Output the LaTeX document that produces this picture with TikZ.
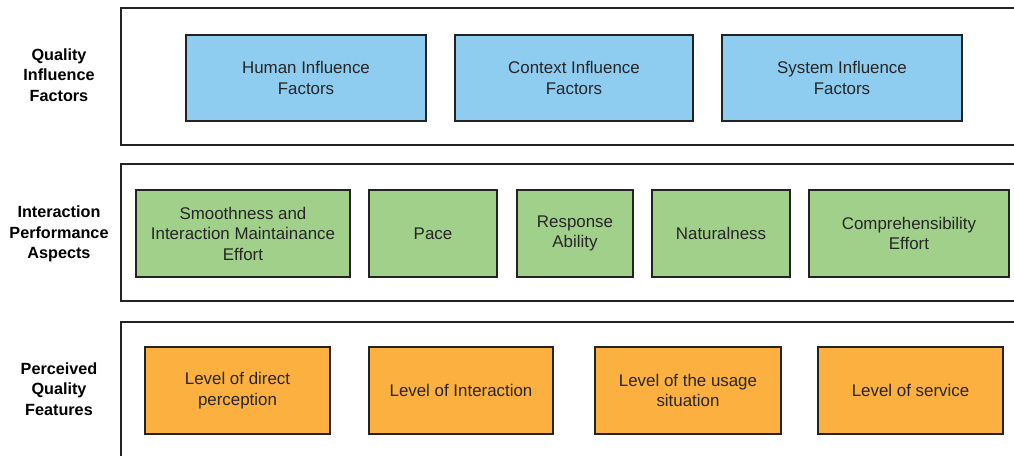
\documentclass[tikz,border=0pt]{standalone}
\usepackage{fontspec}
\setmainfont{Liberation Sans}
\definecolor{hifblue}{RGB}{142,204,240}
\definecolor{ipagreen}{RGB}{160,208,138}
\definecolor{pqforange}{RGB}{251,176,64}
\definecolor{edgegray}{RGB}{35,35,35}
\begin{document}
\begin{tikzpicture}[x=1pt, y=-1pt,
        factor/.style={draw=edgegray, line width=1.4pt, rectangle, inner sep=0pt, align=center, font=\fontsize{16.9}{20.5}\selectfont, text=black!85},
        layer/.style={draw=edgegray, line width=2.2pt},
        rowlabel/.style={align=center, font=\fontsize{16.2}{20.5}\selectfont\bfseries}]
        \useasboundingbox (0,0) rectangle (1014,455);
        \clip (0,0) rectangle (1014,455);

        % layer frames
        \draw[layer] (121,8) rectangle (1030,145);
        \draw[layer] (121,164) rectangle (1030,301);
        \draw[layer] (121,322) rectangle (1030,480);

        % row labels
        \node[rowlabel] (qif) at (59,75) {Quality\\Influence\\Factors};
        \node[rowlabel] (ipa) at (59,234) {Interaction\\Performance\\Aspects};
        \node[rowlabel] (pqf) at (59,389) {Perceived\\Quality\\Features};

        % quality influence factors
        \node[factor, fill=hifblue, minimum width=240pt, minimum height=86pt] (human) at (306,78) {Human Influence\\Factors};
        \node[factor, fill=hifblue, minimum width=238pt, minimum height=86pt] (context) at (574,78) {Context Influence\\Factors};
        \node[factor, fill=hifblue, minimum width=240pt, minimum height=86pt] (system) at (842,78) {System Influence\\Factors};

        % interaction performance aspects
        \node[factor, fill=ipagreen, minimum width=214pt, minimum height=87pt] (smooth) at (243,233.5) {Smoothness and\\Interaction Maintainance\\Effort};
        \node[factor, fill=ipagreen, minimum width=128pt, minimum height=87pt] (pace) at (433,233.5) {Pace};
        \node[factor, fill=ipagreen, minimum width=116pt, minimum height=87pt] (response) at (575,233.5) {Response\\Ability};
        \node[factor, fill=ipagreen, minimum width=138pt, minimum height=87pt] (natural) at (721,233.5) {Naturalness};
        \node[factor, fill=ipagreen, minimum width=200pt, minimum height=87pt] (compre) at (909,233.5) {Comprehensibility\\Effort};

        % perceived quality features
        \node[factor, fill=pqforange, minimum width=185pt, minimum height=87pt] (direct) at (237.5,390.5) {Level of direct\\perception};
        \node[factor, fill=pqforange, minimum width=184pt, minimum height=87pt] (interact) at (461,390.5) {Level of Interaction};
        \node[factor, fill=pqforange, minimum width=186pt, minimum height=87pt] (usage) at (688,390.5) {Level of the usage\\situation};
        \node[factor, fill=pqforange, minimum width=185pt, minimum height=87pt] (service) at (910.5,390.5) {Level of service};
    \end{tikzpicture}
\end{document}
